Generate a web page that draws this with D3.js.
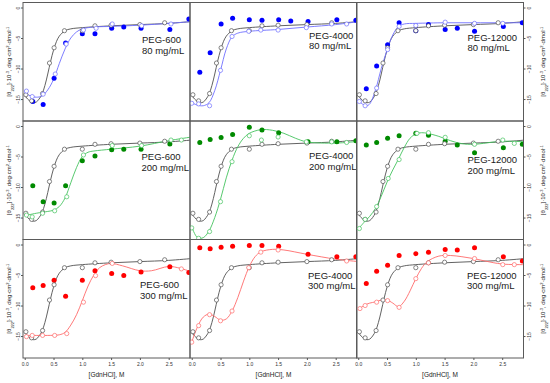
<!DOCTYPE html>
<html>
<head>
<meta charset="utf-8">
<script src="https://cdn.jsdelivr.net/npm/d3@7"></script>
<style>
  body { margin: 0; background: #fff; }
  svg { font-family: "Liberation Sans", Arial, sans-serif; }
</style>
</head>
<body>
<svg id="chart" width="550" height="383"></svg>
<script>
// --- data ---------------------------------------------------------------
const pegNames = ["PEG-600", "PEG-4000", "PEG-12000"];
const concNames = ["80 mg/mL", "200 mg/mL", "300 mg/mL"];
const xTicks = [0, 0.5, 1.0, 1.5, 2.0, 2.5];
const yTicks = [0, -5, -10, -15];

// control (no crowder) - same in every panel
const grayX = [0.02, 0.12, 0.31, 0.43, 0.51, 0.69, 1.0, 1.22, 1.5, 2.0, 2.43];
const grayY = [-14.3, -15.3, -14.1, -9.1, -6.6, -3.8, -3.8, -3.0, -2.9, -2.8, -2.5];
const grayFitX = [0, 0.05, 0.1, 0.15, 0.2, 0.25, 0.3, 0.35, 0.4, 0.45, 0.5, 0.55, 0.6, 0.7, 0.8, 1.0, 1.5, 2.0, 2.5, 2.9];
const grayFitY = [-14.4, -15.0, -15.4, -15.6, -15.5, -15.0, -14.2, -12.8, -10.9, -8.8, -7.0, -5.6, -4.7, -3.8, -3.5, -3.3, -3.0, -2.8, -2.6, -2.3];

// filled symbols share the same denaturant points
const filledX = [0.14, 0.32, 0.51, 0.71, 1.0, 1.22, 1.51, 1.72, 2.02, 2.52, 2.85];

// row 1: 80 mg/mL (blue)
const p600_80_openX = [0.03, 0.13, 0.32, 0.53, 0.72, 1.02, 1.24, 1.52, 2.03, 2.54];
const p600_80_openY = [-13.7, -14.6, -14.2, -10.9, -6.0, -3.7, -3.4, -2.7, -3.0, -2.7];
const p600_80_filledY = [-15.4, -15.9, -11.6, -5.8, -4.3, -4.3, -3.4, -3.2, -3.4, -3.6, -1.9];
const p600_80_fitX = [0, 0.1, 0.2, 0.3, 0.4, 0.5, 0.6, 0.7, 0.8, 0.9, 1.0, 1.2, 1.5, 2.0, 2.5, 2.9];
const p600_80_fitY = [-13.9, -14.5, -14.7, -14.5, -13.5, -11.8, -9.2, -6.8, -5.0, -4.0, -3.5, -3.2, -3.1, -2.9, -2.6, -2.3];

const p4000_80_openX = [0.0, 0.12, 0.31, 0.5, 0.7, 0.99, 1.2, 1.5, 1.99, 2.43, 2.69];
const p4000_80_openY = [-15.7, -15.8, -16.1, -10.3, -4.75, -3.9, -3.7, -3.7, -3.3, -2.7, -2.7];
const p4000_80_filledY = [-10.6, -7.4, -2.7, -1.75, -2.0, -2.1, -2.0, -2.2, -2.3, -2.0, -2.1];
const p4000_80_fitX = [0, 0.1, 0.2, 0.3, 0.4, 0.5, 0.6, 0.7, 0.8, 1.0, 1.5, 2.0, 2.5, 2.9];
const p4000_80_fitY = [-15.6, -16.0, -16.1, -15.6, -13.6, -10.3, -6.8, -4.8, -4.2, -3.9, -3.6, -3.2, -2.8, -2.3];

const p12000_80_openX = [0.02, 0.12, 0.32, 0.51, 0.71, 1.0, 1.51, 2.02, 2.51];
const p12000_80_openY = [-15.4, -16.1, -13.2, -6.9, -3.1, -2.95, -2.4, -2.6, -2.6];
const p12000_80_filledY = [-13.3, -9.6, -6.1, -2.5, -3.8, -2.8, -3.6, -3.4, -3.9, -3.1, -2.5];
const p12000_80_fitX = [0, 0.1, 0.15, 0.2, 0.3, 0.4, 0.5, 0.6, 0.7, 0.8, 1.0, 1.5, 2.0, 2.5, 2.9];
const p12000_80_fitY = [-15.2, -16.0, -16.1, -15.8, -13.5, -10.0, -7.0, -4.5, -3.1, -2.7, -2.6, -2.5, -2.5, -2.5, -2.5];

// row 2: 200 mg/mL (green)
const p600_200_openX = [0.03, 0.13, 0.31, 0.52, 0.73, 1.02, 1.52, 2.03, 2.54, 2.72];
const p600_200_openY = [-14.6, -14.9, -14.3, -13.9, -11.6, -4.75, -3.2, -3.2, -2.3, -2.3];
const p600_200_filledY = [-9.8, -12.4, -12.6, -9.8, -5.7, -4.9, -3.9, -3.8, -3.8, -2.95, null];
const p600_200_fitX = [0, 0.2, 0.4, 0.5, 0.6, 0.7, 0.8, 0.9, 1.0, 1.1, 1.2, 1.5, 2.0, 2.5, 2.9];
const p600_200_fitY = [-14.7, -14.3, -14.0, -13.8, -13.2, -11.8, -9.3, -6.8, -5.0, -4.3, -4.1, -3.8, -3.3, -2.4, -1.8];

const p4000_200_openX = [0.0, 0.12, 0.31, 0.5, 0.7, 1.0, 1.21, 1.5, 1.99, 2.43, 2.69];
const p4000_200_openY = [-16.7, -18.4, -17.3, -12.4, -5.85, -1.6, -2.3, -1.8, -2.6, -2.6, -2.7];
const p4000_200_filledY = [-2.7, -2.2, -1.9, -1.4, -0.2, -0.65, -1.1, null, -2.6, -2.6, -2.4];
const p4000_200_fitX = [0, 0.1, 0.2, 0.3, 0.4, 0.5, 0.6, 0.7, 0.8, 0.9, 1.0, 1.2, 1.4, 1.6, 1.8, 2.0, 2.5, 2.9];
const p4000_200_fitY = [-16.5, -18.3, -18.3, -17.2, -15.0, -12.0, -8.5, -5.6, -3.4, -2.0, -1.2, -0.6, -0.7, -1.2, -2.0, -2.6, -2.8, -2.5];

const p12000_200_openX = [0.02, 0.12, 0.32, 0.52, 0.71, 1.02, 1.22, 1.51, 2.02, 2.51, 2.71];
const p12000_200_openY = [-16.8, -15.3, -13.2, -8.6, -5.5, -1.2, -1.1, -1.85, -3.0, -2.3, -2.85];
const p12000_200_filledY = [-3.1, -2.7, -2.0, -1.6, -1.2, -1.5, -2.5, -3.1, -4.4, -3.55, -3.0];
const p12000_200_fitX = [0, 0.1, 0.2, 0.3, 0.4, 0.5, 0.6, 0.7, 0.8, 0.9, 1.0, 1.1, 1.2, 1.4, 1.6, 1.8, 2.0, 2.5, 2.9];
const p12000_200_fitY = [-16.9, -15.8, -14.8, -13.5, -11.5, -9.2, -7.2, -5.4, -3.5, -2.0, -1.3, -1.1, -1.2, -1.7, -2.4, -2.9, -3.0, -2.5, -2.6];

// row 3: 300 mg/mL (red)
const p600_300_openX = [0.03, 0.13, 0.31, 0.52, 0.73, 1.02, 1.23, 1.52, 2.72];
const p600_300_openY = [-15.1, -14.9, -14.9, -14.9, -14.6, -9.45, -5.1, -3.1, -4.0];
const p600_300_filledY = [-7.1, -6.7, -5.85, -8.5, -5.85, -4.3, -4.75, -5.1, -4.5, -3.65, -4.6];
const p600_300_fitX = [0, 0.2, 0.4, 0.6, 0.7, 0.8, 0.9, 1.0, 1.1, 1.2, 1.3, 1.4, 1.5, 1.7, 2.0, 2.2, 2.5, 2.7, 2.9];
const p600_300_fitY = [-14.9, -14.9, -14.9, -14.8, -14.4, -13.2, -11.5, -9.2, -6.8, -5.0, -3.8, -3.3, -3.1, -3.5, -4.3, -4.3, -3.6, -3.9, -4.5];

const p4000_300_openX = [0.0, 0.12, 0.31, 0.5, 0.7, 0.99, 1.2, 1.5, 2.69];
const p4000_300_openY = [-16.0, -13.3, -11.5, -12.5, -10.9, -3.8, -1.25, -0.9, -2.7];
const p4000_300_filledY = [-0.55, -0.7, -0.45, -0.3, -0.15, -0.15, -0.3, null, -1.6, -2.0, -2.0];
const p4000_300_fitX = [0, 0.1, 0.2, 0.3, 0.4, 0.5, 0.6, 0.7, 0.8, 0.9, 1.0, 1.1, 1.2, 1.4, 1.6, 2.0, 2.5, 2.9];
const p4000_300_fitY = [-16.0, -13.5, -11.9, -11.4, -11.8, -12.4, -12.2, -10.9, -8.7, -6.0, -3.6, -2.0, -1.2, -0.8, -0.9, -1.6, -2.4, -2.8];

const p12000_300_openX = [0.03, 0.12, 0.32, 0.51, 0.71, 1.0, 1.22, 1.51, 2.02, 2.51, 2.71];
const p12000_300_openY = [-10.5, -10.0, -9.45, -9.2, -10.3, -5.6, -3.0, -1.8, -2.3, -3.3, -3.3];
const p12000_300_filledY = [-6.4, -4.4, -3.4, -1.8, -1.5, -1.25, -0.8, -0.9, -0.55, -2.0, -2.7];
const p12000_300_fitX = [0, 0.1, 0.2, 0.3, 0.4, 0.5, 0.6, 0.7, 0.8, 0.9, 1.0, 1.1, 1.2, 1.4, 1.6, 1.8, 2.0, 2.2, 2.5, 2.9];
const p12000_300_fitY = [-10.7, -10.0, -9.6, -9.4, -9.1, -9.1, -9.6, -10.2, -9.3, -7.6, -5.6, -3.9, -2.8, -1.9, -1.8, -2.0, -2.3, -2.7, -3.2, -3.3];

// --- layout -------------------------------------------------------------
const colLeft = [23, 190, 356.5];
const rowTop = [2.5, 121, 239.5];
const panelW = 167, panelH = 118.5;
const rowColors = [
  { filled: "#0000ff", light: "#6f6fff" },
  { filled: "#008a00", light: "#45c35f" },
  { filled: "#ff0000", light: "#ff6a6a" }
];
const grayColor = "#505050";
// label placement inside each panel (offset from panel corner)
const labelAt = [
  [[119, 40.5], [119, 36], [111, 38]],
  [[118.5, 39], [119, 38], [111, 42]],
  [[117, 48.5], [118, 39], [110.5, 39]]
];

const panels = [
  [
    [p600_80_openX, p600_80_openY, p600_80_filledY, p600_80_fitX, p600_80_fitY],
    [p4000_80_openX, p4000_80_openY, p4000_80_filledY, p4000_80_fitX, p4000_80_fitY],
    [p12000_80_openX, p12000_80_openY, p12000_80_filledY, p12000_80_fitX, p12000_80_fitY]
  ],
  [
    [p600_200_openX, p600_200_openY, p600_200_filledY, p600_200_fitX, p600_200_fitY],
    [p4000_200_openX, p4000_200_openY, p4000_200_filledY, p4000_200_fitX, p4000_200_fitY],
    [p12000_200_openX, p12000_200_openY, p12000_200_filledY, p12000_200_fitX, p12000_200_fitY]
  ],
  [
    [p600_300_openX, p600_300_openY, p600_300_filledY, p600_300_fitX, p600_300_fitY],
    [p4000_300_openX, p4000_300_openY, p4000_300_filledY, p4000_300_fitX, p4000_300_fitY],
    [p12000_300_openX, p12000_300_openY, p12000_300_filledY, p12000_300_fitX, p12000_300_fitY]
  ]
];

const svg = d3.select("#chart");
const zip = (xs, ys) => xs.map((x, i) => ({ x: x, y: ys[i] })).filter(d => d.y != null);

// y-axis title with sub/superscripts
function yTitle(g) {
  const t = g.append("text").style("font-size", "6px").attr("fill", "#222")
    .attr("text-anchor", "middle");
  t.append("tspan").text("[θ");
  t.append("tspan").attr("baseline-shift", "sub").style("font-size", "4px").text("222");
  t.append("tspan").text("]·10");
  t.append("tspan").attr("baseline-shift", "super").style("font-size", "4px").text("-3");
  t.append("tspan").text(", deg·cm");
  t.append("tspan").attr("baseline-shift", "super").style("font-size", "4px").text("2");
  t.append("tspan").text("·dmol");
  t.append("tspan").attr("baseline-shift", "super").style("font-size", "4px").text("-1");
  return t;
}

panels.forEach(function (row, r) {
  row.forEach(function (p, c) {
    const left = colLeft[c], top = rowTop[r];
    const x = d3.scaleLinear().domain([-0.03, 2.87]).range([left, left + panelW]);
    const y = d3.scaleLinear().domain([-18.6, 0.82]).range([top + panelH, top]);
    const col = rowColors[r];

    const clipId = "clip" + r + c;
    svg.append("clipPath").attr("id", clipId)
      .append("rect").attr("x", left).attr("y", top).attr("width", panelW).attr("height", panelH);

    const g = svg.append("g").attr("clip-path", "url(#" + clipId + ")");

    const line = d3.line().x(d => x(d.x)).y(d => y(d.y)).curve(d3.curveCatmullRom.alpha(0.5));

    // control curve
    g.append("path").datum(zip(grayFitX, grayFitY))
      .attr("d", line).attr("fill", "none").attr("stroke", grayColor).attr("stroke-width", 0.9);
    // crowder curve
    g.append("path").datum(zip(p[3], p[4]))
      .attr("d", line).attr("fill", "none").attr("stroke", col.light).attr("stroke-width", 0.9);

    // filled symbols
    g.selectAll("circle.filled").data(zip(filledX, p[2])).enter().append("circle")
      .attr("class", "filled")
      .attr("cx", d => x(d.x)).attr("cy", d => y(d.y)).attr("r", 2.5)
      .attr("fill", col.filled);

    // control open symbols
    g.selectAll("circle.ctrl").data(zip(grayX, grayY)).enter().append("circle")
      .attr("class", "ctrl")
      .attr("cx", d => x(d.x)).attr("cy", d => y(d.y)).attr("r", 2.1)
      .attr("fill", "#fff").attr("stroke", grayColor).attr("stroke-width", 0.7);

    // crowder open symbols
    g.selectAll("circle.open").data(zip(p[0], p[1])).enter().append("circle")
      .attr("class", "open")
      .attr("cx", d => x(d.x)).attr("cy", d => y(d.y)).attr("r", 2.1)
      .attr("fill", "#fff").attr("stroke", col.light).attr("stroke-width", 0.7);

    // frame
    svg.append("rect").attr("x", left).attr("y", top).attr("width", panelW).attr("height", panelH)
      .attr("fill", "none").attr("stroke", "#5a5a5a").attr("stroke-width", 1);

    // panel label
    const lab = svg.append("text").attr("x", left + labelAt[r][c][0]).attr("y", top + labelAt[r][c][1])
      .style("font-size", "9.5px").attr("fill", "#1a1a1a");
    lab.append("tspan").attr("x", left + labelAt[r][c][0]).text(pegNames[c]);
    lab.append("tspan").attr("x", left + labelAt[r][c][0]).attr("dy", 10.8).text(concNames[r]);

    // y axes on outer columns
    if (c === 0) {
      const ax = svg.append("g").attr("transform", "translate(" + left + ",0)")
        .call(d3.axisLeft(y).tickValues(yTicks).tickSize(2).tickFormat(d3.format("d")));
      ax.select(".domain").remove();
      ax.selectAll("line").attr("stroke", "#555");
      ax.selectAll("text").attr("transform", "rotate(-90)").attr("x", 0).attr("y", -3)
        .attr("dy", 0).style("text-anchor", "middle").style("font-size", "5px")
        .style("font-family", "Liberation Sans, Arial, sans-serif").attr("fill", "#333");
      yTitle(svg.append("g").attr("transform", "translate(11," + (top + panelH / 2) + ") rotate(-90)"));
    }
    if (c === 2) {
      const ax = svg.append("g").attr("transform", "translate(" + (left + panelW) + ",0)")
        .call(d3.axisRight(y).tickValues(yTicks).tickSize(2).tickFormat(d3.format("d")));
      ax.select(".domain").remove();
      ax.selectAll("line").attr("stroke", "#555");
      ax.selectAll("text").attr("transform", "rotate(-90)").attr("x", 0).attr("y", 7)
        .attr("dy", 0).style("text-anchor", "middle").style("font-size", "5px")
        .style("font-family", "Liberation Sans, Arial, sans-serif").attr("fill", "#333");
      yTitle(svg.append("g").attr("transform", "translate(545," + (top + panelH / 2) + ") rotate(-90)"));
    }

    // x axis on bottom row
    if (r === 2) {
      const ax = svg.append("g").attr("transform", "translate(0," + (top + panelH) + ")")
        .call(d3.axisBottom(x).tickValues(xTicks).tickSize(2).tickFormat(d3.format(".1f")));
      ax.select(".domain").remove();
      ax.selectAll("line").attr("stroke", "#555");
      ax.selectAll("text").style("font-size", "5px")
        .style("font-family", "Liberation Sans, Arial, sans-serif").attr("fill", "#333").attr("dy", "0.6em");
      svg.append("text").attr("x", left + panelW / 2).attr("y", 376.5)
        .attr("text-anchor", "middle").style("font-size", "6.5px").attr("fill", "#222")
        .text("[GdnHCl], M");
    }
  });
});
</script>
</body>
</html>
